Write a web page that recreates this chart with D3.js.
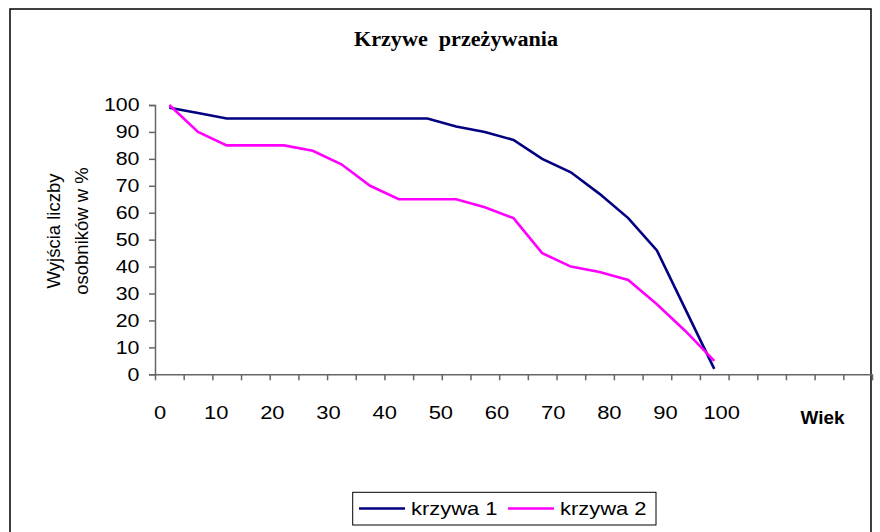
<!DOCTYPE html>
<html><head><meta charset="utf-8">
<script src="https://cdn.jsdelivr.net/npm/d3@7"></script>
<style>body{margin:0;background:#fff}svg{display:block}text{white-space:pre}</style>
</head><body>
<svg id="c" width="880" height="532"></svg>
<script>
const title = "Krzywe  przeżywania";
const yTitle = ["Wyjścia liczby", "osobników w %"];
const xTitle = "Wiek";
const ages = [2.5, 7.5, 12.5, 17.5, 22.5, 27.5, 32.5, 37.5, 42.5, 47.5, 52.5, 57.5, 62.5, 67.5, 72.5, 77.5, 82.5, 87.5, 92.5, 97.5];
const krzywa1 = [99, 97, 95, 95, 95, 95, 95, 95, 95, 95, 92, 90, 87, 80, 75, 67, 58, 46, 24, 2];
const krzywa2 = [100, 90, 85, 85, 85, 83, 78, 70, 65, 65, 65, 62, 58, 45, 40, 38, 35, 26, 16, 5];
const seriesNames = ["krzywa 1", "krzywa 2"];
const seriesColors = ["#000080", "#FF00FF"];
const xTickLabels = [0, 10, 20, 30, 40, 50, 60, 70, 80, 90, 100];
const yTicks = [0, 10, 20, 30, 40, 50, 60, 70, 80, 90, 100];

const svg = d3.select("#c");
const SX = 1.22;
const x = d3.scaleLinear().domain([0, 125]).range([155, 872]);
const xl = d3.scaleLinear().domain([0, 100]).range([160, 721.7]);
const y = d3.scaleLinear().domain([0, 100]).range([374.3, 105]);

svg.append("rect").attr("x", 10).attr("y", 9).attr("width", 861).attr("height", 540)
  .attr("fill", "#fff").attr("stroke", "#000").attr("stroke-width", 1.5);

function txt(xp, yp, s, opts) {
  const t = svg.append("text")
    .attr("transform", `translate(${xp},${yp}) scale(${opts.sx || SX},1)`)
    .attr("font-family", opts.family || "Arial, 'Liberation Sans', sans-serif")
    .attr("font-size", opts.size || 18)
    .attr("font-weight", opts.weight || "normal")
    .attr("text-anchor", opts.anchor || "middle")
    .attr("fill", "#000")
    .text(s);
  if (opts.baseline) t.attr("dominant-baseline", opts.baseline);
  return t;
}

txt(456, 46, title, {family: "'Liberation Serif', 'Times New Roman', serif", size: 20.5, weight: "bold", sx: 1.08});

// y axis
const yAxis = d3.axisLeft(y).tickValues(yTicks).tickSize(6).tickFormat("");
const gy = svg.append("g").attr("transform", "translate(155,0)").call(yAxis);
gy.select(".domain").attr("stroke", "#666").attr("stroke-width", 1.5);
gy.selectAll(".tick line").attr("stroke", "#666").attr("stroke-width", 1.5);
yTicks.forEach(v => txt(139.5, y(v), String(v), {anchor: "end", baseline: "central", size: 17.5}));

// x axis
const xAxis = d3.axisBottom(x).tickValues(d3.range(0, 126, 5)).tickSize(6).tickSizeOuter(0).tickFormat("");
const gx = svg.append("g").attr("transform", `translate(0,${y(0)})`).call(xAxis);
gx.select(".domain").attr("stroke", "#666").attr("stroke-width", 1.5);
gx.selectAll(".tick line").attr("stroke", "#666").attr("stroke-width", 1.5);
xTickLabels.forEach(v => txt(xl(v), 418.5, String(v), {}));
txt(822.5, 423.5, xTitle, {weight: "bold", size: 18, sx: 1.05});

// y title
yTitle.forEach((s, i) => {
  svg.append("text")
    .attr("transform", `translate(${[60, 88][i]},231) rotate(-90)`)
    .attr("font-family", "Arial, 'Liberation Sans', sans-serif")
    .attr("font-size", 18.5).attr("text-anchor", "middle").attr("fill", "#000").text(s);
});

// lines
const line = d3.line().x((d, i) => x(ages[i])).y(d => y(d));
[krzywa1, krzywa2].forEach((s, i) => {
  svg.append("path").datum(s).attr("d", line).attr("fill", "none")
    .attr("stroke", seriesColors[i]).attr("stroke-width", 2.6).attr("stroke-linejoin", "miter");
});

// legend
svg.append("rect").attr("x", 352.7).attr("y", 492.3).attr("width", 303.3).attr("height", 32.7)
  .attr("fill", "#fff").attr("stroke", "#000").attr("stroke-width", 1);
const lx = [359, 508];
seriesNames.forEach((n, i) => {
  svg.append("line").attr("x1", lx[i]).attr("x2", lx[i] + 46).attr("y1", 508.5).attr("y2", 508.5)
    .attr("stroke", seriesColors[i]).attr("stroke-width", 2.6);
  txt(lx[i] + 52, 509, n, {anchor: "start", baseline: "central"});
});
</script>
</body></html>
